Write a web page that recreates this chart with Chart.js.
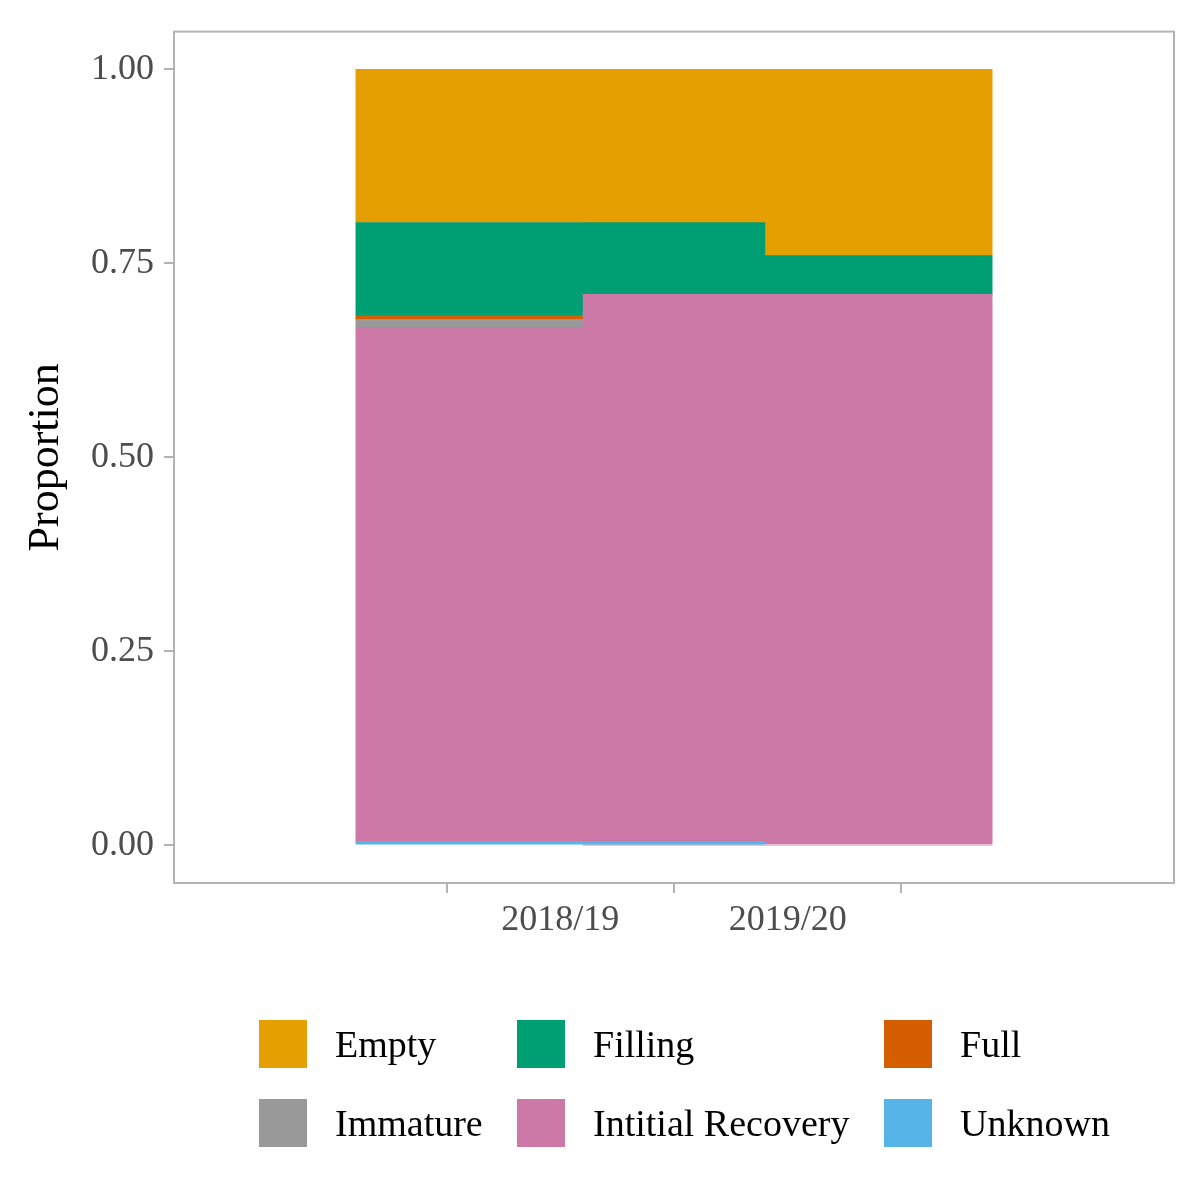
<!DOCTYPE html>
<html><head><meta charset="utf-8">
<script src="https://cdn.jsdelivr.net/npm/chart.js@4"></script>
<style>
body{margin:0;background:#fff;}
#wrap{position:relative;width:1200px;height:1200px;}
#legend{position:absolute;left:0;top:0;width:1200px;height:1200px;pointer-events:none;font-family:"Liberation Serif",serif;font-size:38px;color:#000;}
.item{position:absolute;display:flex;align-items:center;}
.sw{width:48px;height:48px;margin-right:28px;}
</style></head><body>
<div id="wrap"><canvas id="c" width="1200" height="1200"></canvas><div id="legend"></div></div>
<script>
const categories = ["2018/19", "2019/20"];
const seriesNames = ["Unknown", "Intitial Recovery", "Immature", "Full", "Filling", "Empty"];
const unknown = [0.005, 0.0];
const initialRecovery = [0.662, 0.710];
const immature = [0.0106, 0.0];
const full = [0.005, 0.0];
const filling = [0.120, 0.050];
const empty = [0.1974, 0.240];
const yTicks = [0, 0.25, 0.5, 0.75, 1.0];
const colors = ["#56B4E9", "#CC79A7", "#999999", "#D55E00", "#009E73", "#E69F00"];
const values = [unknown, initialRecovery, immature, full, filling, empty];

const frame = {
  id: 'frame',
  afterDraw(ch) {
    const a = ch.chartArea, c = ch.ctx;
    c.save(); c.strokeStyle = '#b3b3b3'; c.lineWidth = 2;
    c.strokeRect(a.left, a.top, a.right - a.left, a.bottom - a.top);
    c.restore();
  }
};

new Chart(document.getElementById('c'), {
  type: 'bar',
  data: {
    datasets: seriesNames.map((n, i) => ({
      label: n, data: values[i].map((v, j) => ({ x: j + 1, y: v })),
      backgroundColor: colors[i], barThickness: 409, borderWidth: 0
    }))
  },
  options: {
    responsive: false, animation: false,
    layout: { padding: { top: 25, right: 26, bottom: 237, left: 0 } },
    plugins: { legend: { display: false }, tooltip: { enabled: false } },
    scales: {
      x: {
        type: 'linear', stacked: true, min: 0.4, max: 2.6,
        afterBuildTicks(s) { s.ticks = categories.map((c, j) => ({ value: j + 1 })); },
        grid: { display: true, drawOnChartArea: false, color: '#b3b3b3', lineWidth: 2, tickLength: 10 },
        border: { display: false },
        ticks: { color: '#4d4d4d', font: { family: 'Liberation Serif', size: 36 }, padding: 6,
          callback: v => categories[Math.round(v) - 1] },
        afterFit(s) { s.height = 80; }
      },
      y: {
        stacked: true, min: -0.0486, max: 1.0486,
        afterBuildTicks(s) { s.ticks = yTicks.map(v => ({ value: v })); },
        grid: { display: true, drawOnChartArea: false, color: '#b3b3b3', lineWidth: 2, tickLength: 10 },
        border: { display: false },
        ticks: { color: '#4d4d4d', font: { family: 'Liberation Serif', size: 36 }, padding: 10, callback: v => Number(v).toFixed(2) },
        title: { display: true, text: 'Proportion', color: '#000', font: { family: 'Liberation Serif', size: 44 }, padding: { top: 20, bottom: 0 } },
        afterFit(s) { s.width = 174; }
      }
    }
  },
  plugins: [frame]
});

const legendOrder = ["Empty", "Filling", "Full", "Immature", "Intitial Recovery", "Unknown"];
const colX = [259, 517, 884], rowY = [1020, 1099];
const lg = document.getElementById('legend');
legendOrder.forEach((n, k) => {
  const i = seriesNames.indexOf(n);
  const d = document.createElement('div');
  d.className = 'item';
  d.style.left = colX[k % 3] + 'px';
  d.style.top = rowY[Math.floor(k / 3)] + 'px';
  d.innerHTML = '<div class="sw" style="background:' + colors[i] + '"></div><span>' + n + '</span>';
  lg.appendChild(d);
});
</script>
</body></html>
